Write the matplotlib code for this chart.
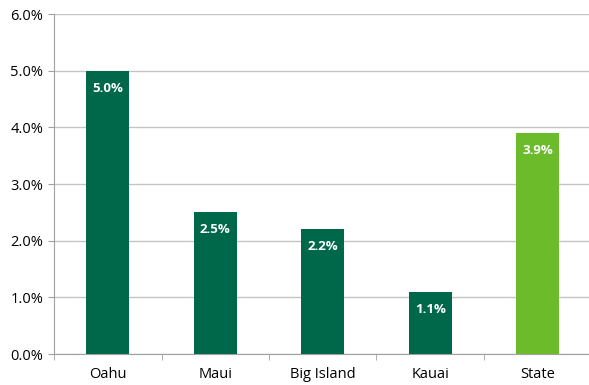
import matplotlib.pyplot as plt
from matplotlib.ticker import FuncFormatter

# share of each island / state
regions = ["Oahu", "Maui", "Big Island", "Kauai", "State"]
rates = [5.0, 2.5, 2.2, 1.1, 3.9]
colors = ["#00684a", "#00684a", "#00684a", "#00684a", "#6bbb2b"]

plt.rcParams['font.family'] = ['Open Sans', 'DejaVu Sans']

fig = plt.figure(figsize=(5.89, 3.85), dpi=100)
ax = fig.add_axes([0.092, 0.0805, 0.912, 0.883])

x = range(len(regions))
bars = ax.bar(x, rates, width=0.4, color=colors, zorder=3)

for b, v in zip(bars, rates):
    ax.annotate("%.1f%%" % v, (b.get_x() + b.get_width() / 2, v),
                xytext=(0, -8), textcoords="offset points",
                ha="center", va="top", color="white",
                fontsize=9.5, fontweight="bold")

ax.set_ylim(0, 6)
ax.set_xlim(-0.5, len(regions) - 0.5)
ax.set_yticks([0, 1, 2, 3, 4, 5, 6])
ax.yaxis.set_major_formatter(FuncFormatter(lambda v, p: "%.1f%%" % v))
ax.grid(axis="y", color="#c4c4c4", lw=1, zorder=0)

ax.set_xticks(list(x))
ax.set_xticklabels(regions)
ax.set_xticks([i + 0.5 for i in range(-1, len(regions))], minor=True)
ax.tick_params(axis="x", which="major", length=0, pad=9, labelsize=10.5)
ax.tick_params(axis="x", which="minor", length=4, color="#a0a0a0", direction="out")
ax.tick_params(axis="y", length=4, color="#a0a0a0", labelsize=10.5, pad=4)

for s in ["top", "right"]:
    ax.spines[s].set_visible(False)
ax.spines["left"].set_color("#a0a0a0")
ax.spines["bottom"].set_color("#a0a0a0")

fig.savefig("out.png", dpi=100)
